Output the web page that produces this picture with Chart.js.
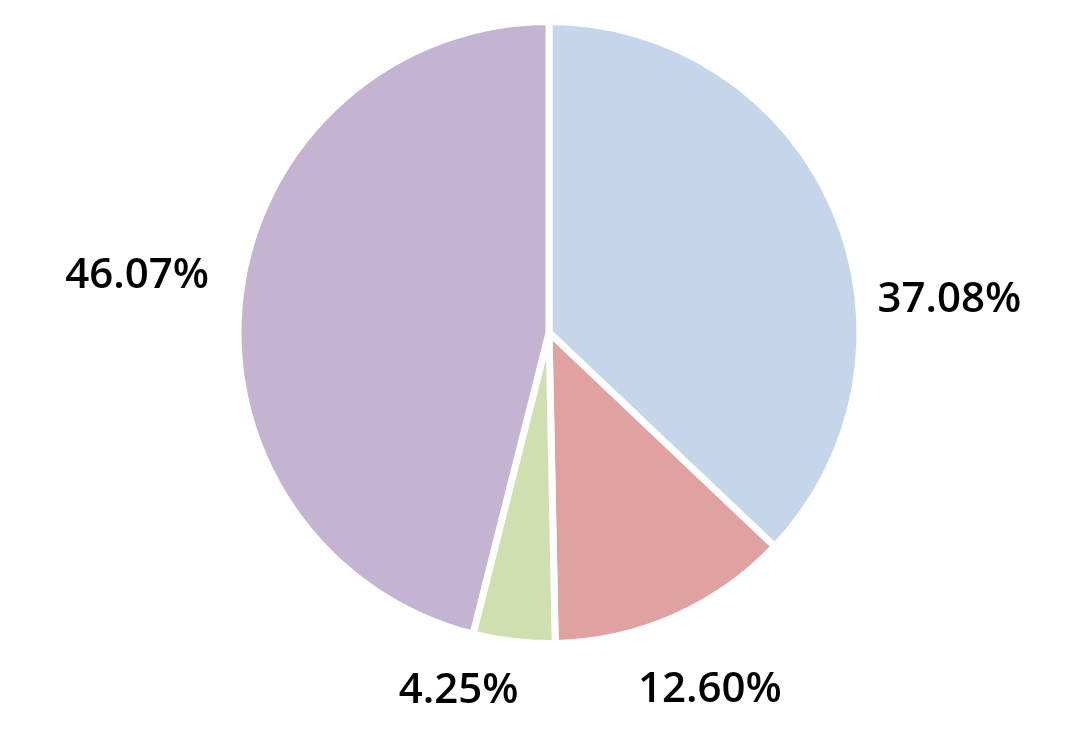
<!DOCTYPE html>
<html>
<head>
<meta charset="utf-8">
<script src="https://cdn.jsdelivr.net/npm/chart.js@4"></script>
<style>
    html, body { margin: 0; padding: 0; background: #ffffff; }
    #wrap { width: 1080px; height: 739px; position: relative; }
</style>
</head>
<body>
<div id="wrap"><canvas id="chartPie"></canvas></div>
<script>
// Dades del gràfic
const categories = ['A', 'B', 'C', 'D'];
const percentatges = [37.08, 12.60, 4.25, 46.07];
const etiquetes = ['37.08%', '12.60%', '4.25%', '46.07%'];
const colors = ['#c5d5ea', '#e0a2a1', '#d0dfb0', '#c4b4d2'];

// Etiquetes fora del pastís
const outsideLabels = {
    id: 'outsideLabels',
    afterDatasetsDraw(chart, args, opts) {
        const ctx = chart.ctx;
        const meta = chart.getDatasetMeta(0);
        ctx.save();
        ctx.font = opts.font;
        ctx.fillStyle = opts.color;
        ctx.textAlign = 'center';
        ctx.textBaseline = 'middle';
        meta.data.forEach((arc, i) => {
            const p = arc.getProps(['x', 'y', 'startAngle', 'endAngle', 'outerRadius'], true);
            const mid = (p.startAngle + p.endAngle) / 2;
            const ux = Math.cos(mid), uy = Math.sin(mid);
            const r = p.outerRadius - opts.border / 2 + opts.gap;
            const w = ctx.measureText(etiquetes[i]).width / 2;
            const h = opts.textHeight / 2;
            // busca la distància on la caixa del text no toca el pastís
            let d = r, cx = 0, cy = 0;
            for (; d < r + 300; d += 0.5) {
                cx = p.x + ux * d;
                cy = p.y + uy * d;
                const nx = Math.max(cx - w, Math.min(p.x, cx + w));
                const ny = Math.max(cy - h, Math.min(p.y, cy + h));
                if (Math.hypot(nx - p.x, ny - p.y) >= r) break;
            }
            const s = opts.shift[i] || [0, 0];
            ctx.fillText(etiquetes[i], cx + s[0], cy + s[1]);
        });
        ctx.restore();
    }
};

new Chart(document.getElementById('chartPie'), {
    type: 'pie',
    data: {
        labels: categories,
        datasets: [{
            data: percentatges,
            backgroundColor: colors,
            borderColor: '#ffffff',
            borderWidth: 7,
            hoverBorderWidth: 7,
            hoverOffset: 0
        }]
    },
    options: {
        responsive: true,
        maintainAspectRatio: false,
        animation: false,
        layout: { padding: { top: 18, bottom: 92, left: 18, right: 0 } },
        plugins: {
            legend: { display: false },
            tooltip: { enabled: false },
            outsideLabels: {
                font: '600 42px "Open Sans"',
                color: '#000000',
                border: 7,
                gap: 40,
                textHeight: 31,
                shift: [[15, 133], [5, 4], [-49, -5], [6, -5]]
            }
        }
    },
    plugins: [outsideLabels]
});
</script>
</body>
</html>
